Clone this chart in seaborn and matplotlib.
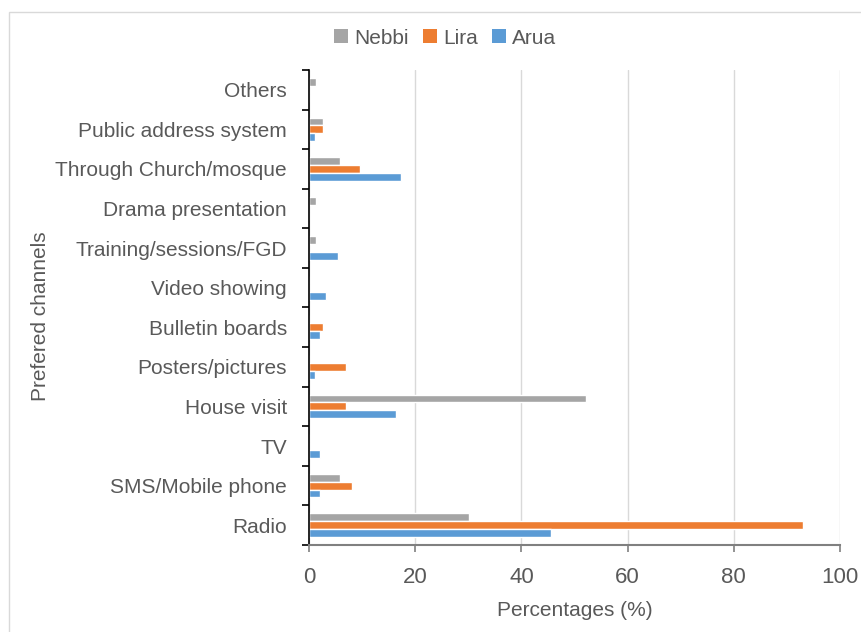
import numpy as np
import pandas as pd
import matplotlib
matplotlib.use("Agg")
import matplotlib.pyplot as plt
import seaborn as sns
from matplotlib.patches import Rectangle

# Preferred communication channels by district (% of respondents)
channels = [
    "Others",
    "Public address system",
    "Through Church/mosque",
    "Drama presentation",
    "Training/sessions/FGD",
    "Video showing",
    "Bulletin boards",
    "Posters/pictures",
    "House visit",
    "TV",
    "SMS/Mobile phone",
    "Radio",
]
districts = ["Nebbi", "Lira", "Arua"]
nebbi = [1.3, 2.6, 5.9, 1.3, 1.3, 0.0, 0.0, 0.0, 52.1, 0.0, 5.9, 30.2]
lira = [0.0, 2.7, 9.6, 0.0, 0.0, 0.0, 2.7, 6.9, 6.9, 0.0, 8.1, 93.1]
arua = [0.0, 1.1, 17.4, 0.0, 5.5, 3.2, 2.1, 1.1, 16.3, 2.1, 2.1, 45.6]
colors = ["#A5A5A5", "#ED7D31", "#5B9BD5"]
x_ticks = [0, 20, 40, 60, 80, 100]

df = pd.DataFrame({
    "channel": channels * 3,
    "pct": nebbi + lira + arua,
    "district": [d for d in districts for _ in channels],
})

sns.set_theme(style="white")
plt.rcParams["font.family"] = ["Liberation Sans Narrow", "Liberation Sans", "DejaVu Sans"]
text_color = "#595959"

fig = plt.figure(figsize=(8.61, 6.32), dpi=100)
ax = fig.add_axes([309 / 861, 87 / 632, 531 / 861, 475 / 632])

sns.barplot(
    data=df, y="channel", x="pct", hue="district", orient="h",
    order=channels, hue_order=districts, palette=colors,
    width=0.6, gap=0, ax=ax, legend=False, saturation=1,
)

ax.set_xlim(0, 100)
ax.set_xticks(x_ticks)
ax.set_xticklabels([str(t) for t in x_ticks])
ax.set_ylim(len(channels) - 0.5, -0.5)

ax.grid(axis="x", color="#D9D9D9", lw=1)
ax.set_axisbelow(True)
for s in ["top", "right"]:
    ax.spines[s].set_visible(False)
ax.spines["left"].set_color("black")
ax.spines["left"].set_linewidth(1.2)
ax.spines["bottom"].set_color("#808080")
ax.spines["bottom"].set_linewidth(1.5)

# category ticks sit between groups
ax.set_yticks(np.arange(-0.5, len(channels), 1), minor=True)
ax.tick_params(axis="y", which="major", length=0, pad=16, labelsize=15, labelcolor=text_color)
ax.tick_params(axis="y", which="minor", left=True, length=5, width=1.2, color="black", direction="out")
ax.tick_params(axis="x", which="major", bottom=True, length=5, width=1.2, color="#808080",
               direction="out", pad=11, labelsize=16, labelcolor=text_color)

ax.set_xlabel("Percentages (%)", fontsize=15, color=text_color)
ax.xaxis.set_label_coords(0.5, -0.117)
ax.set_ylabel("Prefered channels", fontsize=15, color=text_color)
ax.yaxis.set_label_coords(-0.488, 0.482)

handles = [Rectangle((0, 0), 1, 1, facecolor=c, edgecolor="none") for c in colors]
fig.legend(handles, districts, loc="center", bbox_to_anchor=(0.517, 1 - 38 / 632),
           ncol=3, frameon=False, handlelength=0.65, handleheight=0.65,
           handletextpad=0.3, columnspacing=0.7, fontsize=15, labelcolor=text_color)

# chart area border
fig.patches.append(Rectangle((9 / 861, -0.05), 1.2, 0.05 + (632 - 12) / 632,
                             transform=fig.transFigure, fill=False,
                             edgecolor="#D9D9D9", lw=1))

fig.savefig("out.png", dpi=100)
